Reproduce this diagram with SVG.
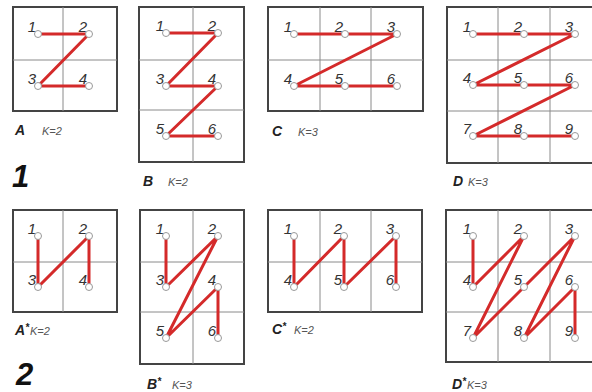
<svg xmlns="http://www.w3.org/2000/svg" width="592" height="392" viewBox="0 0 592 392">
<style>
.box{fill:none;stroke:#444;stroke-width:2}
.grid{fill:none;stroke:#8a8a8a;stroke-width:1}
.path{fill:none;stroke:#d42a2a;stroke-width:3;stroke-linejoin:round;stroke-linecap:round}
.pt{fill:#fff;stroke:#999;stroke-width:1}
.num{font-family:"Liberation Sans",Arial,sans-serif;font-size:15px;font-style:italic;fill:#333;text-anchor:end}
.ttl{font-family:"Liberation Sans",Arial,sans-serif;font-size:14px;font-weight:bold;font-style:italic;fill:#222}
.k{font-family:"Liberation Sans",Arial,sans-serif;font-size:11px;font-style:italic;fill:#555}
.big{font-family:"Liberation Sans",Arial,sans-serif;font-size:31px;font-weight:bold;font-style:italic;fill:#111}
</style>
<rect width="592" height="392" fill="#fff"/>

<g id="panelA">
<rect class="box" x="13" y="7" width="104" height="104"/>
<path class="grid" d="M63 7V111M13 60H117"/>
<polyline class="path" points="38,34 89,34 38,86 89,86"/>
<circle class="pt" cx="38" cy="34" r="3.5"/><circle class="pt" cx="89" cy="34" r="3.5"/>
<circle class="pt" cx="38" cy="86" r="3.5"/><circle class="pt" cx="89" cy="86" r="3.5"/>
<text class="num" x="36" y="32">1</text><text class="num" x="87" y="32">2</text>
<text class="num" x="36" y="84">3</text><text class="num" x="87" y="84">4</text>
<text class="ttl" x="15" y="135">A</text><text class="k" x="42" y="135">K=2</text>
</g>

<g id="panelB">
<rect class="box" x="139" y="7" width="105" height="155"/>
<path class="grid" d="M193 7V162M139 60H244M139 110H244"/>
<polyline class="path" points="166,33 218,33 166,86 218,86 166,136 218,136"/>
<circle class="pt" cx="166" cy="33" r="3.5"/><circle class="pt" cx="218" cy="33" r="3.5"/>
<circle class="pt" cx="166" cy="86" r="3.5"/><circle class="pt" cx="218" cy="86" r="3.5"/>
<circle class="pt" cx="166" cy="136" r="3.5"/><circle class="pt" cx="218" cy="136" r="3.5"/>
<text class="num" x="164" y="31">1</text><text class="num" x="216" y="31">2</text>
<text class="num" x="164" y="84">3</text><text class="num" x="216" y="84">4</text>
<text class="num" x="164" y="134">5</text><text class="num" x="216" y="134">6</text>
<text class="ttl" x="143" y="186">B</text><text class="k" x="168" y="186">K=2</text>
</g>

<g id="panelC">
<rect class="box" x="268" y="7" width="155" height="104"/>
<path class="grid" d="M320 7V111M371 7V111M268 60H423"/>
<polyline class="path" points="294,34 397,34 294,86 397,86"/>
<circle class="pt" cx="294" cy="34" r="3.5"/><circle class="pt" cx="345" cy="34" r="3.5"/><circle class="pt" cx="397" cy="34" r="3.5"/>
<circle class="pt" cx="294" cy="86" r="3.5"/><circle class="pt" cx="345" cy="86" r="3.5"/><circle class="pt" cx="397" cy="86" r="3.5"/>
<text class="num" x="292" y="32">1</text><text class="num" x="343" y="32">2</text><text class="num" x="395" y="32">3</text>
<text class="num" x="292" y="84">4</text><text class="num" x="343" y="84">5</text><text class="num" x="395" y="84">6</text>
<text class="ttl" x="272" y="136">C</text><text class="k" x="298" y="136">K=3</text>
</g>

<g id="panelD">
<rect class="box" x="447" y="7" width="156" height="156"/>
<path class="grid" d="M498 7V163M550 7V163M447 60H603M447 111H603"/>
<polyline class="path" points="473,34 575,34 473,85 575,85 473,136 575,136"/>
<circle class="pt" cx="473" cy="34" r="3.5"/><circle class="pt" cx="524" cy="34" r="3.5"/><circle class="pt" cx="575" cy="34" r="3.5"/>
<circle class="pt" cx="473" cy="85" r="3.5"/><circle class="pt" cx="524" cy="85" r="3.5"/><circle class="pt" cx="575" cy="85" r="3.5"/>
<circle class="pt" cx="473" cy="136" r="3.5"/><circle class="pt" cx="524" cy="136" r="3.5"/><circle class="pt" cx="575" cy="136" r="3.5"/>
<text class="num" x="471" y="32">1</text><text class="num" x="522" y="32">2</text><text class="num" x="573" y="32">3</text>
<text class="num" x="471" y="83">4</text><text class="num" x="522" y="83">5</text><text class="num" x="573" y="83">6</text>
<text class="num" x="471" y="134">7</text><text class="num" x="522" y="134">8</text><text class="num" x="573" y="134">9</text>
<text class="ttl" x="453" y="186">D</text><text class="k" x="468" y="186">K=3</text>
</g>

<text class="big" x="12" y="187">1</text>

<g id="panelAstar">
<rect class="box" x="13" y="210" width="104" height="102"/>
<path class="grid" d="M63 210V312M13 262H117"/>
<polyline class="path" points="38,236 38,287 89,236 89,287"/>
<circle class="pt" cx="38" cy="236" r="3.5"/><circle class="pt" cx="89" cy="236" r="3.5"/>
<circle class="pt" cx="38" cy="287" r="3.5"/><circle class="pt" cx="89" cy="287" r="3.5"/>
<text class="num" x="36" y="234">1</text><text class="num" x="87" y="234">2</text>
<text class="num" x="36" y="285">3</text><text class="num" x="87" y="285">4</text>
<text class="ttl" x="15" y="335">A<tspan font-size="10" dy="-4">*</tspan></text><text class="k" x="30" y="335">K=2</text>
</g>

<g id="panelBstar">
<rect class="box" x="140" y="210" width="104" height="154"/>
<path class="grid" d="M193 210V364M140 262H244M140 312H244"/>
<polyline class="path" points="166,236 166,287 218,236 166,338 218,287 218,338"/>
<circle class="pt" cx="166" cy="236" r="3.5"/><circle class="pt" cx="218" cy="236" r="3.5"/>
<circle class="pt" cx="166" cy="287" r="3.5"/><circle class="pt" cx="218" cy="287" r="3.5"/>
<circle class="pt" cx="166" cy="338" r="3.5"/><circle class="pt" cx="218" cy="338" r="3.5"/>
<text class="num" x="164" y="234">1</text><text class="num" x="216" y="234">2</text>
<text class="num" x="164" y="285">3</text><text class="num" x="216" y="285">4</text>
<text class="num" x="164" y="336">5</text><text class="num" x="216" y="336">6</text>
<text class="ttl" x="147" y="389">B<tspan font-size="10" dy="-4">*</tspan></text><text class="k" x="172" y="389">K=3</text>
</g>

<g id="panelCstar">
<rect class="box" x="268" y="210" width="154" height="102"/>
<path class="grid" d="M320 210V312M371 210V312M268 262H422"/>
<polyline class="path" points="294,236 294,287 344,236 344,287 396,236 396,287"/>
<circle class="pt" cx="294" cy="236" r="3.5"/><circle class="pt" cx="344" cy="236" r="3.5"/><circle class="pt" cx="396" cy="236" r="3.5"/>
<circle class="pt" cx="294" cy="287" r="3.5"/><circle class="pt" cx="344" cy="287" r="3.5"/><circle class="pt" cx="396" cy="287" r="3.5"/>
<text class="num" x="292" y="234">1</text><text class="num" x="342" y="234">2</text><text class="num" x="394" y="234">3</text>
<text class="num" x="292" y="285">4</text><text class="num" x="342" y="285">5</text><text class="num" x="394" y="285">6</text>
<text class="ttl" x="272" y="334">C<tspan font-size="10" dy="-4">*</tspan></text><text class="k" x="294" y="334">K=2</text>
</g>

<g id="panelDstar">
<rect class="box" x="446" y="210" width="157" height="152"/>
<path class="grid" d="M498 210V362M550 210V362M446 262H603M446 312H603"/>
<polyline class="path" points="473,236 473,287 524,236 473,338 575,236 524,338 575,287 575,338"/>
<circle class="pt" cx="473" cy="236" r="3.5"/><circle class="pt" cx="524" cy="236" r="3.5"/><circle class="pt" cx="575" cy="236" r="3.5"/>
<circle class="pt" cx="473" cy="287" r="3.5"/><circle class="pt" cx="524" cy="287" r="3.5"/><circle class="pt" cx="575" cy="287" r="3.5"/>
<circle class="pt" cx="473" cy="338" r="3.5"/><circle class="pt" cx="524" cy="338" r="3.5"/><circle class="pt" cx="575" cy="338" r="3.5"/>
<text class="num" x="471" y="234">1</text><text class="num" x="522" y="234">2</text><text class="num" x="573" y="234">3</text>
<text class="num" x="471" y="285">4</text><text class="num" x="522" y="285">5</text><text class="num" x="573" y="285">6</text>
<text class="num" x="471" y="336">7</text><text class="num" x="522" y="336">8</text><text class="num" x="573" y="336">9</text>
<text class="ttl" x="452" y="389">D<tspan font-size="10" dy="-4">*</tspan></text><text class="k" x="467" y="389">K=3</text>
</g>

<text class="big" x="16" y="385" font-style="normal">2</text>
</svg>
